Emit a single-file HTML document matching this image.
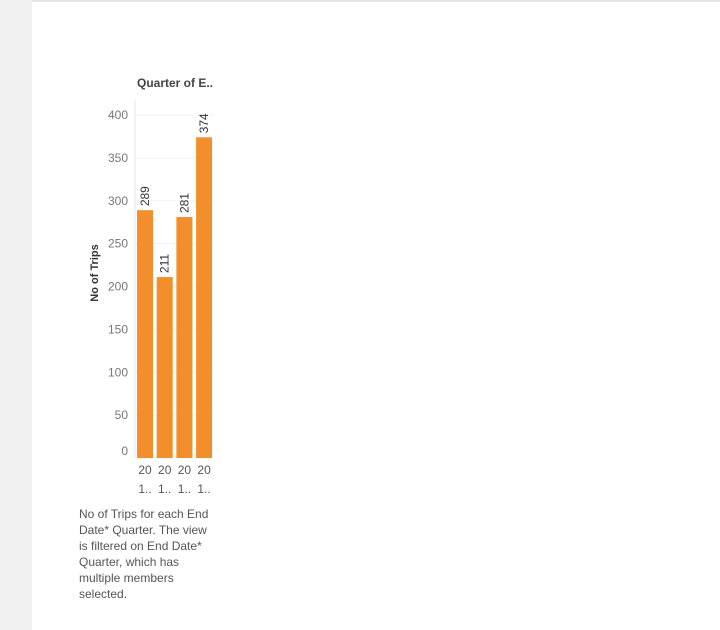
<!DOCTYPE html>
<html><head><meta charset="utf-8"><style>
body{margin:0;width:720px;height:630px;background:#fff;overflow:hidden;font-family:"Liberation Sans",sans-serif;position:relative}
#strip{position:absolute;left:0;top:0;width:32px;height:630px;background:#f0f0f0}
#topline{position:absolute;left:32px;top:0;width:688px;height:2px;background:#e4e4e4}
#cap{position:absolute;left:79px;top:506px;width:136px;font-size:12px;line-height:16px;color:#555}
</style></head><body>
<div id="strip"></div>
<div id="topline"></div>
<svg id="chart" width="720" height="630" style="position:absolute;left:0;top:0">
<text x="175" y="87" text-anchor="middle" font-size="12" font-weight="bold" fill="#444">Quarter of E..</text>
<text transform="translate(98,273) rotate(-90)" text-anchor="middle" font-size="11" font-weight="bold" fill="#333">No of Trips</text>
<g id="grid"></g><g id="bars"></g>
</svg>
<div id="cap">No of Trips for each End Date* Quarter. The view is filtered on End Date* Quarter, which has multiple members selected.</div>
<script>
const categories=["2013 Q1","2013 Q2","2013 Q3","2013 Q4"];
const values=[289,211,281,374];
const ticks=[0,50,100,150,200,250,300,350,400];
const NS="http://www.w3.org/2000/svg";
const y0=458,y400=115;
function y(v){return y0-(v/400)*(y0-y400);}
function x(i){return 137+i*19.7;}
const grid=document.getElementById('grid'),bars=document.getElementById('bars');
function mk(tag,at,par){const e=document.createElementNS(NS,tag);for(const k in at)e.setAttribute(k,at[k]);par.appendChild(e);return e;}
const ax=mk('line',{x1:135,x2:135,y1:100,y2:y0,stroke:'#e6e6e6'},grid);


ticks.forEach(t=>{
 const g=mk('line',{x1:135,x2:214,y1:y(t),y2:y(t),stroke:'#f2f2f2'},grid);
 
 
 const ly=t===0?y(t)-3:y(t)+4;
 const l=mk('text',{x:128,y:ly,'text-anchor':'end','font-size':12,fill:'#777'},grid);
 l.textContent=t;
 
 
});
values.forEach((v,i)=>{
 const r=mk('rect',{x:x(i),y:y(v),width:16,height:y0-y(v),fill:'#f28e2b'},bars);
 
 
 const cx=x(i)+8;
 const t=mk('text',{transform:`translate(${cx+4},${y(v)-4}) rotate(-90)`,'font-size':12,fill:'#333'},bars);
 t.textContent=v;
 
 
 const a=mk('text',{x:cx,y:474,'text-anchor':'middle','font-size':12,fill:'#555'},bars);
 a.textContent=categories[i].slice(0,2);
 
 
 const b=mk('text',{x:cx,y:493,'text-anchor':'middle','font-size':12,fill:'#555'},bars);
 b.textContent=categories[i].slice(2,3)+"..";
 
 
});
</script>
</body></html>
